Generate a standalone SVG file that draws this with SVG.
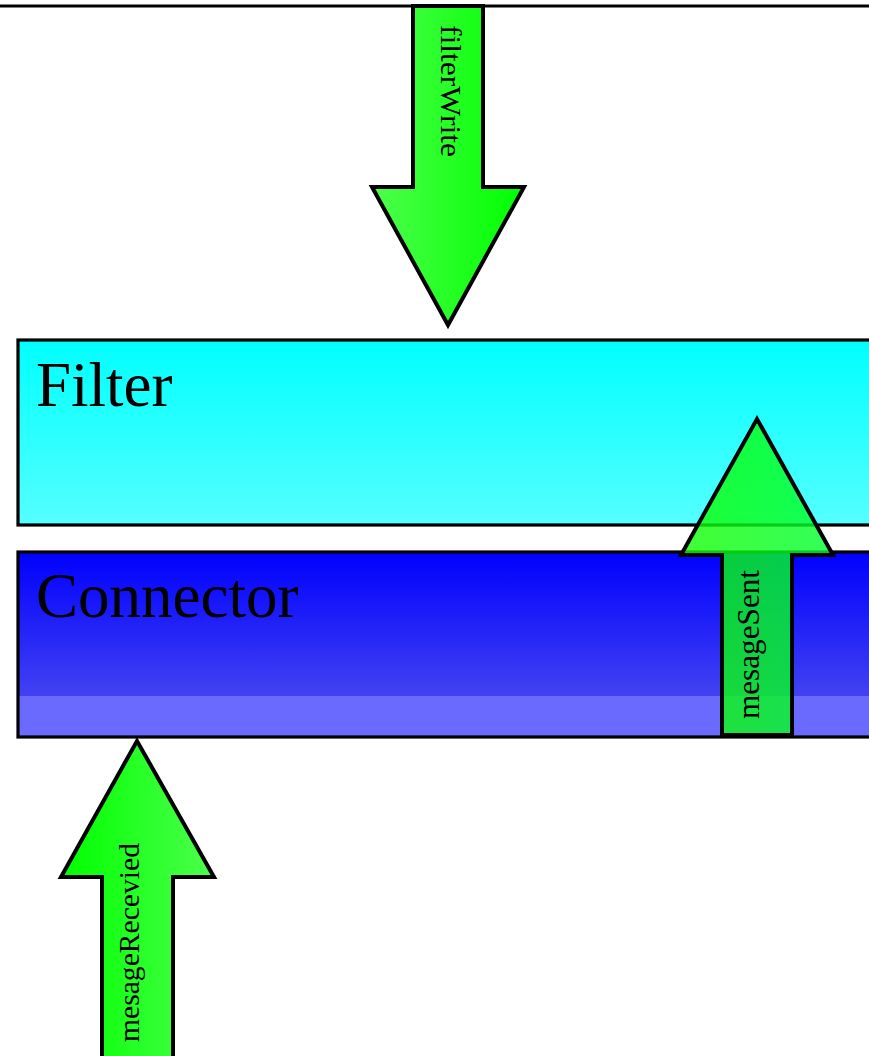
<svg xmlns="http://www.w3.org/2000/svg" width="869" height="1056" viewBox="0 0 869 1056">
  <style>
    .box { stroke: #000; stroke-width: 3.2; }
    .arrow { stroke: #000; stroke-width: 4; stroke-linejoin: miter; }
    .title { font-family: "Liberation Serif", "Times New Roman", serif; font-size: 63px; fill: #000; }
    .lbl { font-family: "Liberation Serif", "Times New Roman", serif; fill: #000; }
  </style>
  <defs>
    <linearGradient id="gFilter" x1="0" y1="0" x2="0" y2="1">
      <stop offset="0" stop-color="#00ffff"/>
      <stop offset="1" stop-color="#55ffff"/>
    </linearGradient>
    <linearGradient id="gConnector" x1="0" y1="0" x2="0" y2="1">
      <stop offset="0" stop-color="#0000ff"/>
      <stop offset="0.78" stop-color="#4242f2"/>
      <stop offset="0.78" stop-color="#6a6aff"/>
      <stop offset="1" stop-color="#6a6aff"/>
    </linearGradient>
    <linearGradient id="gDown" x1="0" y1="0" x2="1" y2="0">
      <stop offset="0" stop-color="#4cff4c"/>
      <stop offset="1" stop-color="#00ff00"/>
    </linearGradient>
    <linearGradient id="gUp" x1="0" y1="0" x2="1" y2="0">
      <stop offset="0" stop-color="#00ff00"/>
      <stop offset="1" stop-color="#4cff4c"/>
    </linearGradient>
    <linearGradient id="gSent" x1="0" y1="0" x2="1" y2="0">
      <stop offset="0" stop-color="#10ff00"/>
      <stop offset="1" stop-color="#00ff30"/>
    </linearGradient>
  </defs>

  <!-- upper boundary -->
  <line x1="0" y1="6" x2="869" y2="6" stroke="#000" stroke-width="3"/>

  <g id="connectors">
    <g id="filterWrite">
      <polygon class="arrow" fill="url(#gDown)" points="413,6 483,6 483,187 524,187 448,325 372,187 413,187"/>
      <text class="lbl" font-size="29" textLength="132" lengthAdjust="spacingAndGlyphs" transform="translate(441,25) rotate(90)">filterWrite</text>
    </g>
  </g>

  <g id="filter">
    <rect class="box" x="18" y="340" width="870" height="185" fill="url(#gFilter)"/>
    <text class="title" x="36" y="406">Filter</text>
  </g>

  <g id="connector">
    <rect class="box" x="18" y="552" width="870" height="185" fill="url(#gConnector)"/>
    <text class="title" x="36" y="617">Connector</text>
  </g>

  <g id="connectors-up">
    <g id="mesageSent">
      <!-- translucent body so the box borders show through -->
      <polygon class="arrow" fill="url(#gSent)" fill-opacity="0.8" points="722,735 792,735 792,555 833,555 757,419 681,555 722,555"/>
      <text class="lbl" font-size="31" textLength="149" lengthAdjust="spacingAndGlyphs" transform="translate(759,719) rotate(-90)">mesageSent</text>
    </g>
    <g id="mesageRecevied">
      <polygon class="arrow" fill="url(#gUp)" points="102,1062 102,877 61,877 137,741 214,877 173,877 173,1062"/>
      <text class="lbl" font-size="30" textLength="199" lengthAdjust="spacingAndGlyphs" transform="translate(139,1042) rotate(-90)">mesageRecevied</text>
    </g>
  </g>
</svg>
